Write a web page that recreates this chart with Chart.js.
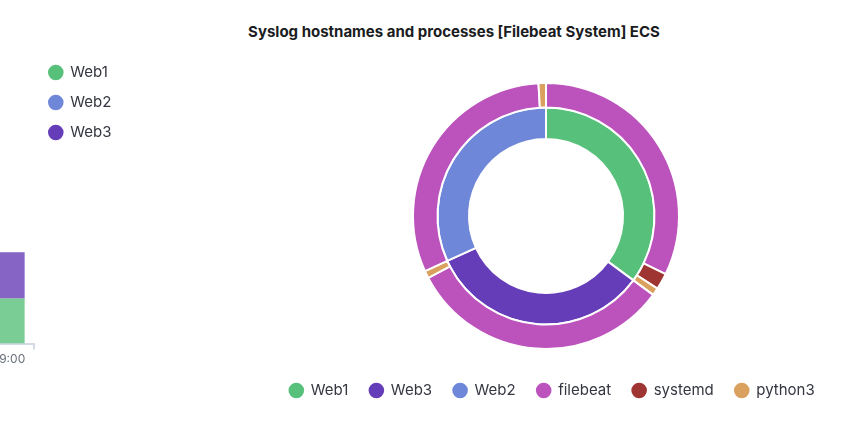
<!DOCTYPE html>
<html>
<head>
<meta charset="utf-8">
<script src="https://cdn.jsdelivr.net/npm/chart.js@4"></script>
<style>
  html, body { margin: 0; padding: 0; width: 844px; height: 421px; overflow: hidden; background: #ffffff; }
  #title { position: absolute; left: 0; top: 22px; width: 908px; text-align: center;
           font: bold 15px Inter, "Noto Sans", sans-serif; line-height: 20px; color: #1a1c21; }
  #leftWrap { position: absolute; left: -17px; top: 0; width: 160px; height: 421px; }
  #mainWrap { position: absolute; left: 249px; top: 0; width: 594px; height: 421px; }
</style>
</head>
<body>
<div id="title">Syslog hostnames and processes [Filebeat System] ECS</div>
<div id="leftWrap"><canvas id="left"></canvas></div>
<div id="mainWrap"><canvas id="main"></canvas></div>
<script>
// ---- left (cut-off) panel data ----
const leftCategories = ['09:00'];
const leftWeb1 = [154];
const leftWeb2 = [0];
const leftWeb3 = [157];
const leftYMax = 1000;

// ---- main doughnut data ----
const hostLabels = ['Web1', 'Web3', 'Web2'];
const hostValues = [35.1, 33.1, 31.8];
const hostColors = ['#57c17b', '#663db8', '#6f87d8'];

const processHosts = ['Web1', 'Web1', 'Web1', 'Web3', 'Web3', 'Web2', 'Web2'];
const processLabels = ['filebeat', 'systemd', 'python3', 'filebeat', 'python3', 'filebeat', 'python3'];
const processValues = [32.2, 2.0, 0.9, 32.2, 0.9, 30.9, 0.9];

const processNames = ['filebeat', 'systemd', 'python3'];
const processColorList = ['#bc52bc', '#9e3533', '#daa05d'];

const legendLabels = ['Web1', 'Web3', 'Web2', 'filebeat', 'systemd', 'python3'];
const legendColors = ['#57c17b', '#663db8', '#6f87d8', '#bc52bc', '#9e3533', '#daa05d'];

const FONT = 'Inter, "Noto Sans", sans-serif';

// ---- left chart ----
const leftColors = ['#57c17b', '#6f87d8', '#663db8'];
new Chart(document.getElementById('left'), {
  type: 'bar',
  data: {
    labels: leftCategories,
    datasets: [
      { label: 'Web1', data: leftWeb1, backgroundColor: 'rgba(87,193,123,0.8)', borderWidth: 0 },
      { label: 'Web2', data: leftWeb2, backgroundColor: 'rgba(111,135,216,0.8)', borderWidth: 0 },
      { label: 'Web3', data: leftWeb3, backgroundColor: 'rgba(102,61,184,0.8)', borderWidth: 0 }
    ]
  },
  options: {
    responsive: true,
    maintainAspectRatio: false,
    animation: false,
    layout: { padding: { top: 50, right: 21.5, bottom: 51, left: 0 } },
    datasets: { bar: { categoryPercentage: 1.0, barPercentage: 0.64 } },
    scales: {
      x: {
        stacked: true,
        grid: { display: true, drawOnChartArea: false, tickLength: 6, color: '#d3dae6', lineWidth: 2 },
        border: { display: true, color: '#d3dae6', width: 2 },
        ticks: { color: '#69707d', font: { family: FONT, size: 12 }, padding: 3 }
      },
      y: { stacked: true, display: false, min: 0, max: leftYMax }
    },
    plugins: {
      legend: {
        position: 'right',
        align: 'start',
        maxWidth: 100,
        labels: {
          usePointStyle: true, pointStyle: 'circle',
          boxWidth: 14, boxHeight: 11, padding: 15,
          color: '#343741', font: { family: FONT, size: 15 },
          generateLabels: (chart) => chart.data.datasets.map((ds, i) => ({
            text: ds.label,
            fillStyle: leftColors[i], strokeStyle: leftColors[i],
            lineWidth: 0, pointStyle: 'circle', hidden: false, datasetIndex: i, fontColor: '#343741'
          }))
        }
      },
      tooltip: { enabled: false }
    }
  }
});

// ---- main doughnut ----
const processColors = processLabels.map(p => processColorList[processNames.indexOf(p)]);

const legendShift = {
  id: 'legendShift',
  afterLayout(chart) {
    if (chart.legend) { chart.legend.left += 6; chart.legend.right += 6; }
  }
};

new Chart(document.getElementById('main'), {
  type: 'doughnut',
  data: {
    labels: processLabels.map((p, i) => processHosts[i] + ' - ' + p),
    datasets: [
      { label: 'process', data: processValues, backgroundColor: processColors,
        borderColor: '#ffffff', borderWidth: 2, weight: 24.5, hoverOffset: 0 },
      { label: 'host.hostname', data: hostValues, backgroundColor: hostColors,
        borderColor: '#ffffff', borderWidth: 2, weight: 31.5, hoverOffset: 0 }
    ]
  },
  options: {
    responsive: true,
    maintainAspectRatio: false,
    animation: false,
    radius: 133,
    cutout: '57.9%',
    layout: { padding: { top: 70, right: 0, bottom: 13, left: 0 } },
    plugins: {
      legend: {
        position: 'bottom',
        align: 'center',
        labels: {
          usePointStyle: true, pointStyle: 'circle',
          boxWidth: 14, boxHeight: 11, padding: 21,
          color: '#343741', font: { family: FONT, size: 15 },
          generateLabels: () => legendLabels.map((t, i) => ({
            text: t, fillStyle: legendColors[i], strokeStyle: legendColors[i],
            lineWidth: 0, pointStyle: 'circle', hidden: false, index: i, fontColor: '#343741'
          }))
        },
        onClick: () => {}
      },
      tooltip: { enabled: false }
    }
  },
  plugins: [legendShift]
});
</script>
</body>
</html>
